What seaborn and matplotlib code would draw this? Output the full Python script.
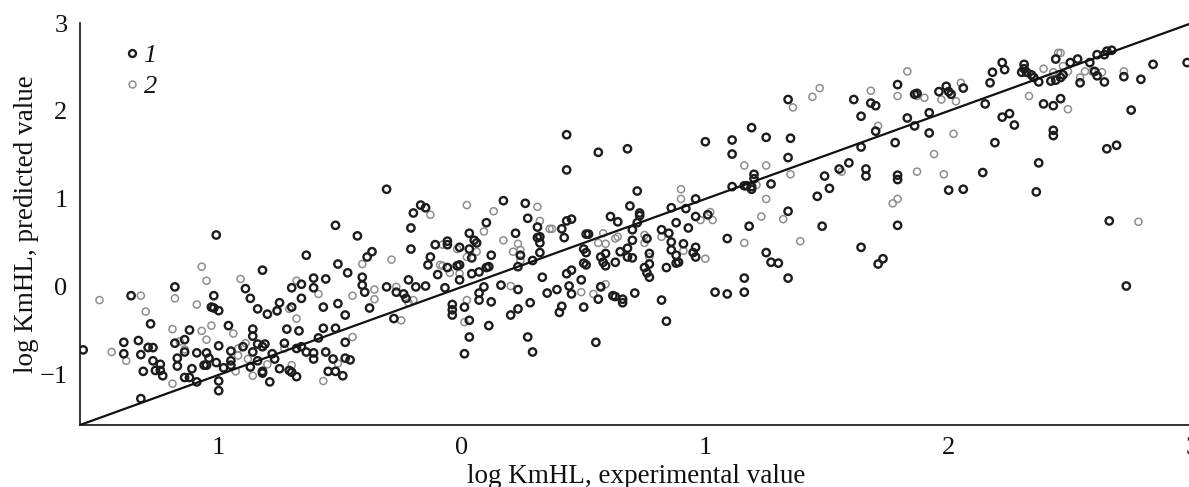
import matplotlib
matplotlib.use("Agg")
import matplotlib.pyplot as plt
import seaborn as sns
import pandas as pd
from matplotlib.lines import Line2D

# ---------------- data ----------------
s1_x = [-1.557, -1.39, -1.39, -1.36, -1.33, -1.32, -1.31, -1.32, -1.28, -1.29, -1.27, -1.27, -1.26, -1.24, -1.24,
        -1.23, -1.18, -1.18, -1.17, -1.17, -1.14, -1.14, -1.12, -1.14, -1.12, -1.11, -1.09, -1.09, -1.06, -1.05,
        -1.04, -1.05, -1.02, -1.03, -1.02, -1.00, -1.01, -1.00, -1.01, -1.00, -1.00, -0.98, -0.96, -0.95, -0.95,
        -0.95, -0.90, -0.89, -0.87, -0.86, -0.86, -0.86, -0.84, -0.87, -0.84, -0.82, -0.82, -0.81, -0.84, -0.82,
        -0.82, -0.80, -0.79, -0.78, -0.77, -0.76, -0.75, -0.75, -0.73, -0.72, -0.71, -0.70, -0.70, -0.70, -0.68,
        -0.67, -0.66, -0.66, -0.68, -0.66, -0.64, -0.64, -0.61, -0.61, -0.61, -0.61, -0.59, -0.57, -0.57, -0.56,
        -0.56, -0.55, -0.52, -0.52, -0.52, -0.53, -0.51, -0.51, -0.49, -0.48, -0.48, -0.48, -0.46, -0.47, -0.43,
        -0.31, -0.39, -0.37, -0.41, -0.41, -0.40, -0.38, -0.31, -0.27, -0.24, -0.23, -0.28, -0.20, -0.17, -0.15,
        -0.21, -0.21, -0.22, -0.19, -0.15, -0.13, -0.14, -0.11, -0.06, -0.06, -0.06, -0.10, -0.07, -0.02, -0.01,
        -0.01, -0.01, 0.03, 0.03, 0.04, 0.05, 0.06, 0.04, 0.07, 0.10, 0.11, 0.10, 0.12, 0.17, -0.04,
        -0.04, -0.04, 0.01, 0.03, 0.03, 0.01, 0.07, 0.07, 0.09, 0.12, 0.11, 0.16, 0.23, 0.20, 0.23,
        0.28, 0.27, 0.29, 0.22, 0.26, 0.27, 0.31, 0.31, 0.32, 0.32, 0.24, 0.23, 0.29, 0.32, 0.33,
        0.41, 0.43, 0.45, 0.43, 0.56, 0.42, 0.35, 0.39, 0.43, 0.45, 0.44, 0.45, 0.41, 0.40, 0.49,
        0.50, 0.55, 0.50, 0.51, 0.51, 0.52, 0.50, 0.51, 0.57, 0.58, 0.59, 0.59, 0.61, 0.64, 0.65,
        0.63, 0.57, 0.56, 0.62, 0.63, 0.66, 0.66, 0.68, 0.68, 0.69, 0.43,
        0.68, 0.72, 0.73, 0.73, 0.70, 0.70, 0.72, 0.70, 0.76, 0.77, 0.77, 0.75, 0.76, 0.77, 0.71,
        0.82, 0.85, 0.86, 0.86, 0.88, 0.89, 0.88, 0.84, 0.86, 0.88, 0.91, 0.93, 0.95, 0.96, 0.96,
        0.92, 0.96, 0.96, 0.82, 0.84, 1.00, 1.01, 1.04, 1.09, 1.09, 1.11, 1.11, 1.11, 1.16, 1.17,
        1.19, 1.19, 1.20, 1.20, 1.16, 1.16, 1.18, 1.27, 1.25, 1.19, 1.25, 1.27, 1.30, 1.34, 1.34,
        1.34, 1.35, 1.34, 1.46, 1.48, 1.49, 1.51, 1.55, 1.59, 1.64, 1.64, 1.66, 1.66, 1.64, 1.61,
        1.68, 1.70, 1.70, 1.71, 1.73, 1.78, 1.79, 1.79, 1.79,
        1.79, 1.83, 1.86, 1.87, 1.86, 2.00, 2.06, 1.92, 1.92, 1.96, 1.99, 2.00, 2.01, 2.06, 2.14,
        2.15, 2.17, 2.18, 2.19, 2.22, 2.23, 2.22, 2.25, 2.27, 2.31, 2.31, 2.30, 2.32, 2.34, 2.35,
        2.37, 2.37, 2.36, 2.39, 2.43, 2.46, 2.43, 2.43, 2.42, 2.44, 2.46, 2.47, 2.44, 2.50, 2.53,
        2.54, 2.58, 2.60, 2.61, 2.64, 2.61, 2.64, 2.65, 2.67, 2.65, 2.69, 2.66, 2.73, 2.72, 2.75,
        2.79, 2.84, 2.98]
s1_y = [-0.716, -0.63, -0.76, -0.10, -0.61, -0.77, -0.96, -1.27, -0.42, -0.69, -0.69, -0.84, -0.95, -0.88, -0.95,
        -1.01, 0.00, -0.64, -0.81, -0.90, -0.60, -0.74, -0.49, -1.03, -1.03, -0.93, -0.75, -1.08, -0.89, -0.75,
        -0.81, -0.89, -0.10, -0.23, -0.24, -0.27, 0.59, -0.67, -0.86, -1.07, -1.18, -0.92, -0.44, -0.73, -0.84,
        -0.89, -0.68, -0.02, -0.13, -0.56, -0.48, -0.74, -0.65, -0.91, -0.25, 0.19, -0.68, -0.65, -0.84, -0.96,
        -0.98, -0.31, -1.08, -0.76, -0.82, -0.27, -0.18, -0.93, -0.64, -0.48, -0.95, -0.97, -0.01, -0.23, -1.02,
        -0.50, 0.03, -0.13, -0.70, -0.68, -0.74, 0.36, -0.75, -0.82, 0.10, -0.01, -0.58, -0.47, -0.23, 0.09,
        -0.74, -0.96, 0.70, -0.47, -0.96, -0.82, 0.26, -0.19, -1.01, -0.63, -0.32, -0.81, -0.83, 0.16, 0.58,
        1.11, 0.34, 0.40, 0.11, 0.02, -0.06, -0.24, 0.00, -0.06, -0.08, -0.13, -0.36, 0.84, 0.93, 0.90,
        0.67, 0.43, 0.08, 0.00, 0.01, 0.34, 0.25, 0.48, 0.52, 0.48, 0.22, 0.14, -0.01, 0.24, 0.25,
        0.45, 0.08, 0.61, 0.43, 0.33, 0.53, 0.50, 0.15, 0.17, 0.22, 0.23, 0.73, 0.36, 0.98, -0.20,
        -0.26, -0.32, -0.23, -0.38, -0.57, -0.76, -0.07, -0.15, 0.00, -0.17, -0.44, 0.02, -0.03, -0.32, -0.25,
        -0.18, -0.57, -0.74, 0.61, 0.95, 0.78, 0.68, 0.56, 0.57, 0.50, 0.36, 0.23, 0.30, 0.39, 0.11,
        0.66, 0.75, 0.77, 1.33, 1.53, 0.56, -0.07, -0.03, 0.15, 0.19, 0.01, -0.08, -0.22, -0.29, 0.08,
        -0.23, -0.63, 0.43, 0.39, 0.60, 0.60, 0.27, 0.25, 0.34, 0.28, 0.24, 0.38, 0.80, 0.74, 0.40,
        0.28, 0.00, -0.14, -0.10, -0.11, -0.14, -0.18, 0.44, 0.34, 0.92, 1.73,
        1.57, 1.09, 0.84, 0.81, 0.65, 0.53, 0.73, 0.33, 0.55, 0.38, 0.26, 0.22, 0.16, 0.11, -0.07,
        0.65, 0.61, 0.51, 0.42, 0.36, 0.28, 0.27, 0.22, 0.90, 0.73, 0.49, 0.67, 0.39, 0.34, 0.45,
        0.89, 1.00, 0.80, -0.15, -0.39, 1.65, 0.82, -0.06, -0.08, 0.55, 1.51, 1.67, 1.14, 1.15, 1.15,
        1.11, 1.14, 1.28, 1.23, 0.10, -0.06, 0.69, 1.17, 1.70, 1.81, 0.39, 0.28, 0.27, 0.86, 0.10,
        1.47, 1.69, 2.13, 1.03, 0.69, 1.26, 1.12, 1.34, 1.41, 0.45, 1.59, 1.34, 1.26, 1.94, 2.13,
        2.09, 2.06, 1.77, 0.26, 0.32, 1.64, 1.27, 1.22, 0.70,
        2.30, 1.92, 2.19, 2.20, 1.83, 1.10, 1.11, 1.75, 1.98, 2.22, 2.28, 2.22, 2.19, 2.26, 1.30,
        2.08, 2.32, 2.44, 1.64, 2.55, 2.47, 1.93, 1.97, 1.84, 2.53, 2.48, 2.44, 2.44, 2.41, 2.38,
        2.33, 1.41, 1.08, 2.08, 2.06, 2.14, 1.78, 1.72, 2.34, 2.35, 2.38, 2.41, 2.59, 2.55, 2.59,
        2.32, 2.55, 2.45, 2.40, 2.33, 2.64, 2.64, 2.68, 2.69, 1.57, 1.61, 0.75, 0.01, 2.39, 2.01,
        2.36, 2.53, 2.55]

s2_x = [-1.49, -1.44, -1.38, -1.32, -1.30, -1.29, -1.19, -1.19, -1.18, -1.16, -1.14, -1.09, -1.07, -1.05, -1.07,
        -1.05, -1.03, -0.94, -0.93, -0.92, -0.92, -0.91, -0.89, -0.88, -0.86, -0.80, -0.76, -0.73, -0.71, -0.70,
        -0.68, -0.68, -0.59, -0.57, -0.51, -0.45, -0.45,
        -0.41, -0.36, -0.36, -0.29, -0.27, -0.20, -0.22, -0.25, -0.13, -0.08, -0.09, -0.08, -0.05, -0.02, -0.01,
        0.02, 0.06, 0.02, 0.09, 0.13, 0.17, 0.02, 0.01, 0.20, 0.31, 0.32, 0.23, 0.24, 0.21, 0.24, 0.37, 0.36,
        0.49, 0.58, 0.59, 0.56, 0.63, 0.64, 0.54, 0.57, 0.59,
        0.75, 0.75, 0.77, 0.82, 0.91, 0.98, 0.90, 0.90, 1.00, 1.02, 1.03, 1.16, 1.16, 1.21, 1.23, 1.25, 1.25,
        1.32, 1.35, 1.39, 1.36, 1.56, 1.71, 1.77, 1.79, 1.44, 1.47, 1.68,
        1.79, 1.83, 1.87, 1.90, 1.87, 1.94, 1.98, 1.97, 2.03, 2.05, 2.02, 2.33, 2.39, 2.43, 2.45, 2.46, 2.47,
        2.49, 2.49, 2.54, 2.56, 2.59, 2.63, 2.78, 2.72]
s2_y = [-0.15, -0.74, -0.84, -0.10, -0.28, -0.68, -0.48, -1.10, -0.13, -0.62, -0.71, -0.20, 0.23, 0.07, -0.50,
        -0.60, -0.44, -0.53, -0.96, -0.70, -0.78, 0.09, -0.64, -0.82, -1.01, -0.88, -0.28, -0.70, -0.25, -0.89,
        0.07, -0.36, -0.08, -1.07, -0.87, -0.10, -0.57,
        0.26, -0.03, -0.14, 0.31, 0.00, -0.15, -0.18, -0.38, 0.82, 0.48, 0.25, 0.24, 0.16, 0.43, 0.15,
        0.93, 0.40, 0.34, 0.63, 0.86, 0.53, -0.15, -0.40, 0.01, 0.91, 0.75, 0.49, 0.42, 0.40, 0.30, 0.66, 0.66,
        -0.06, 0.61, 0.49, 0.50, 0.55, 0.57, -0.08, 0.01, 0.03,
        0.59, 0.50, 0.34, 0.57, 0.41, 0.76, 1.11, 1.00, 0.32, 0.85, 0.76, 1.38, 0.50, 1.16, 0.80, 1.00, 1.38,
        0.77, 1.28, 0.52, 2.04, 1.31, 1.83, 0.95, 1.00, 2.16, 2.26, 2.23,
        2.17, 2.45, 2.17, 2.15, 1.31, 1.51, 1.28, 2.13, 2.11, 2.32, 1.74, 2.17, 2.48, 2.44, 2.66, 2.66, 2.51,
        2.02, 2.45, 2.38, 2.45, 2.45, 2.44, 0.74, 2.45]

series_labels = ["1", "2"]
x_ticks = [-1, 0, 1, 2, 3]
x_tick_labels = ["1", "0", "1", "2", "3"]
y_ticks = [-1, 0, 1, 2, 3]
y_tick_labels = ["\u22121", "0", "1", "2", "3"]
x_label = "log KmHL, experimental value"
y_label = "log KmHL, predicted value"

# ---------------- styling ----------------
sns.set_theme(style="white")
plt.rcParams['font.family'] = ['Liberation Serif', 'DejaVu Serif']

DARK = "#1c1c1c"
GRAY = "#8e8e8e"
W, H = 1189, 487

fig = plt.figure(figsize=(W / 100, H / 100), dpi=100)
ax = fig.add_axes([80 / W, 62 / H, 1112 / W, 402 / H])

df1 = pd.DataFrame({"x": s1_x, "y": s1_y})
df2 = pd.DataFrame({"x": s2_x, "y": s2_y})

sns.scatterplot(data=df2, x="x", y="y", ax=ax, marker="o", s=26,
                facecolor="none", edgecolor=GRAY, linewidth=1.1, legend=False, zorder=2)
sns.scatterplot(data=df1, x="x", y="y", ax=ax, marker="o", s=28,
                facecolor="none", edgecolor=DARK, linewidth=1.7, legend=False, zorder=3)

ax.axline((0, 0), slope=1, color="#111111", linewidth=1.6, zorder=4)

ax.set_xlim(-1.57, 3.0)
ax.set_ylim(-1.57, 3.0)
ax.set_xticks(x_ticks)
ax.set_xticklabels(x_tick_labels)
ax.set_yticks(y_ticks)
ax.set_yticklabels(y_tick_labels)

for side in ["top", "right"]:
    ax.spines[side].set_visible(False)
for side in ["left", "bottom"]:
    ax.spines[side].set_linewidth(1.2)
    ax.spines[side].set_color("#111111")

ax.tick_params(axis="both", direction="in", length=6.5, width=1.0, color="#111111",
               labelsize=19, labelcolor="#111111")
ax.tick_params(axis="x", pad=9)
ax.tick_params(axis="y", pad=9)

ax.set_xlabel(x_label, fontsize=19.5, color="#111111", labelpad=3)
ax.set_ylabel(y_label, fontsize=19.5, color="#111111", labelpad=0)

handles = [
    Line2D([], [], marker="o", linestyle="", markerfacecolor="none",
           markeredgecolor=DARK, markeredgewidth=1.7, markersize=5),
    Line2D([], [], marker="o", linestyle="", markerfacecolor="none",
           markeredgecolor=GRAY, markeredgewidth=1.1, markersize=5),
]
leg = ax.legend(handles, series_labels, loc="upper left",
                bbox_to_anchor=(100 / W, 1 - 20 / H), bbox_transform=fig.transFigure,
                frameon=False, handlelength=0.6, handletextpad=0.15, labelspacing=0.28,
                prop={"style": "italic", "size": 19, "family": ["Liberation Serif", "DejaVu Serif"]})
for t in leg.get_texts():
    t.set_color("#111111")

fig.savefig("out.png", dpi=100, facecolor="white")
